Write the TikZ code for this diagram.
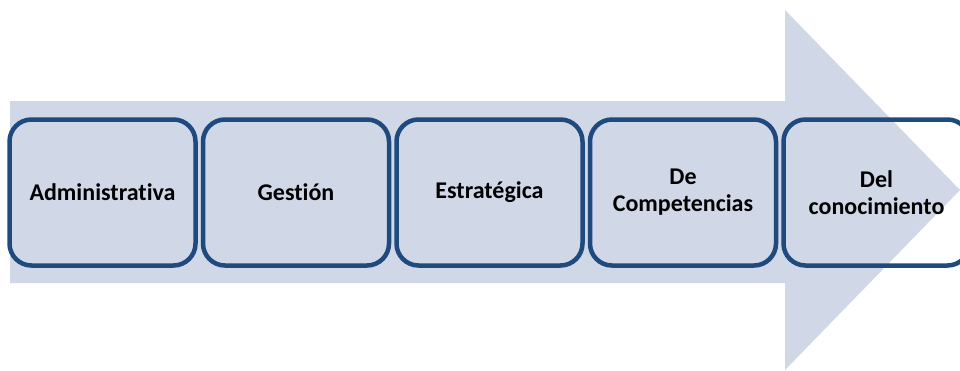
\documentclass[tikz,border=0pt]{standalone}
\usepackage{fontspec}
\setmainfont{Carlito}[Ligatures=NoCommon]
\definecolor{arrowfill}{HTML}{D0D8E8}
\definecolor{boxline}{HTML}{1F4A7E}
\begin{document}
\begin{tikzpicture}[x=1pt,y=-1pt,
  stage/.style={draw=boxline, line width=4.5pt, rounded corners=22pt,
    minimum width=186pt, minimum height=146pt, inner sep=0pt, outer sep=0pt, anchor=north west,
    align=center, font=\fontsize{24}{27}\selectfont\bfseries, text=black}]
\useasboundingbox (0,0) rectangle (960,370);
\clip (0,0) rectangle (960,370);
\fill[arrowfill] (10,101) -- (785,101) -- (785,10) -- (960,190) -- (785,370) -- (785,283) -- (10,283) -- cycle;
\node[stage] (a) at (9.5,119.5) {Administrativa};
\node[stage] (b) at (203,119.5) {Gestión};
\node[stage] (c) at (396.5,119.5) {Estratégica};
\node[stage] (d) at (590,119.5) {De\\Competencias};
\node[stage] (e) at (783.5,119.5) {Del\\conocimiento};
\end{tikzpicture}
\end{document}
